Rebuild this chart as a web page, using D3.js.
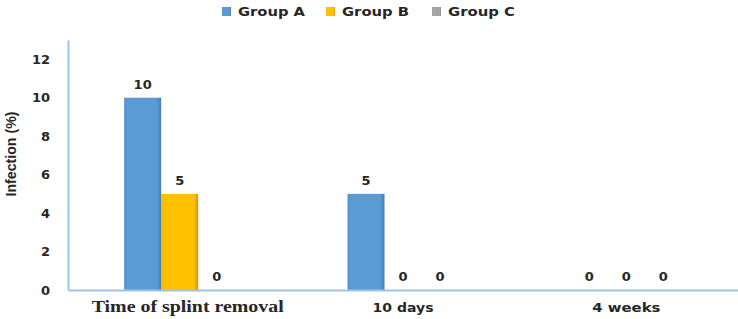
<!DOCTYPE html>
<html>
<head>
<meta charset="utf-8">
<script src="https://cdn.jsdelivr.net/npm/d3@7"></script>
<style>
  body { margin: 0; background: #fff; }
  text { font-family: "DejaVu Sans", sans-serif; font-weight: bold; fill: #262626; }
</style>
</head>
<body>
<div id="wrapper"></div>
<script>
const categories = ["Time of splint removal", "10 days", "4 weeks"]
const groups = ["Group A", "Group B", "Group C"]
const groupA = [10, 5, 0]
const groupB = [5, 0, 0]
const groupC = [0, 0, 0]
const yTicks = [0, 2, 4, 6, 8, 10, 12]
const colors = ["#5b9bd5", "#ffc000", "#a5a5a5"]

const seriesValues = [groupA, groupB, groupC]
const dataset = []
categories.forEach((c, i) => {
    groups.forEach((g, j) => dataset.push({ category: c, group: g, value: seriesValues[j][i] }))
})

const width = 738
const height = 319
const margin = { top: 40, right: 0, bottom: 29, left: 68 }
const boundedWidth = width - margin.left - margin.right
const boundedHeight = height - margin.top - margin.bottom

const svg = d3.select("#wrapper").append("svg")
    .attr("width", width)
    .attr("height", height)

// gradients for the bevelled bars
const defs = svg.append("defs")
colors.forEach((col, i) => {
    const grad = defs.append("linearGradient")
        .attr("id", "grad" + i)
        .attr("x1", "0%").attr("x2", "100%")
    grad.append("stop").attr("offset", "0%").attr("stop-color", d3.color(col).darker(0.2))
    grad.append("stop").attr("offset", "8%").attr("stop-color", col)
    grad.append("stop").attr("offset", "88%").attr("stop-color", col)
    grad.append("stop").attr("offset", "100%").attr("stop-color", d3.color(col).darker(0.6))
})

const bounds = svg.append("g")
    .attr("transform", `translate(${margin.left},${margin.top})`)

// scales
const yScale = d3.scaleLinear()
    .domain([0, 13])
    .range([boundedHeight, 0])

const xScale = d3.scaleBand()
    .domain(categories)
    .range([0, boundedWidth])

const groupScale = d3.scaleBand()
    .domain(groups)
    .range([xScale.bandwidth() / 2 - 55.5, xScale.bandwidth() / 2 + 55.5])

const colorScale = d3.scaleOrdinal().domain(groups).range(d3.range(3))

// y axis
const yAxis = bounds.append("g")
    .call(d3.axisLeft(yScale).tickValues(yTicks).tickSize(0).tickPadding(18))
yAxis.select(".domain").attr("stroke", "#9dc3e6").attr("stroke-width", 2)
yAxis.selectAll("text")
    .attr("font-size", 13)
    .attr("fill", "#262626")
    .style("font-family", "'DejaVu Sans', sans-serif")
    .style("font-weight", "bold")

// bars
bounds.append("g")
    .selectAll("rect")
    .data(dataset)
    .enter().append("rect")
    .attr("x", d => xScale(d.category) + groupScale(d.group))
    .attr("y", d => yScale(d.value))
    .attr("width", groupScale.bandwidth())
    .attr("height", d => boundedHeight - yScale(d.value))
    .attr("fill", d => `url(#grad${colorScale(d.group)})`)

// value labels
bounds.append("g")
    .selectAll("text")
    .data(dataset)
    .enter().append("text")
    .attr("x", d => xScale(d.category) + groupScale(d.group) + groupScale.bandwidth() / 2)
    .attr("y", d => yScale(d.value) - 9)
    .attr("text-anchor", "middle")
    .attr("font-size", 13)
    .text(d => d.value)

// x axis
const xLabelWidth = { "Time of splint removal": 192, "10 days": 61, "4 weeks": 68 }
const xAxis = bounds.append("g")
    .attr("transform", `translate(0,${boundedHeight})`)
    .call(d3.axisBottom(xScale).tickSize(0))
xAxis.select(".domain").attr("stroke", "#9dc3e6").attr("stroke-width", 2)
xAxis.selectAll("text")
    .attr("y", 22)
    .attr("dy", null)
    .attr("x", d => d === categories[0] ? 8 : 0)
    .attr("font-size", d => d === categories[0] ? 16 : 13)
    .attr("fill", "#262626")
    .attr("textLength", d => xLabelWidth[d])
    .attr("lengthAdjust", "spacingAndGlyphs")
    .style("font-weight", "bold")
    .style("font-family", d => d === categories[0] ? "'Liberation Serif', serif" : "'DejaVu Sans', sans-serif")

// y axis title
svg.append("text")
    .attr("transform", `translate(16,${margin.top + 114}) rotate(-90)`)
    .attr("text-anchor", "middle")
    .attr("font-size", 14)
    .attr("textLength", 85)
    .attr("lengthAdjust", "spacingAndGlyphs")
    .style("font-family", "'Liberation Sans Narrow', 'Liberation Sans', sans-serif")
    .text("Infection (%)")

// legend
const legendX = [222, 326, 432]
const legend = svg.append("g")
    .selectAll("g")
    .data(groups)
    .enter().append("g")
    .attr("transform", (d, i) => `translate(${legendX[i]},4)`)
legend.append("rect")
    .attr("width", 9).attr("height", 9)
    .attr("y", 3)
    .attr("fill", (d, i) => `url(#grad${i})`)
legend.append("text")
    .attr("x", 16)
    .attr("y", 12)
    .attr("font-size", 13)
    .attr("textLength", 67)
    .attr("lengthAdjust", "spacingAndGlyphs")
    .text(d => d)
</script>
</body>
</html>
